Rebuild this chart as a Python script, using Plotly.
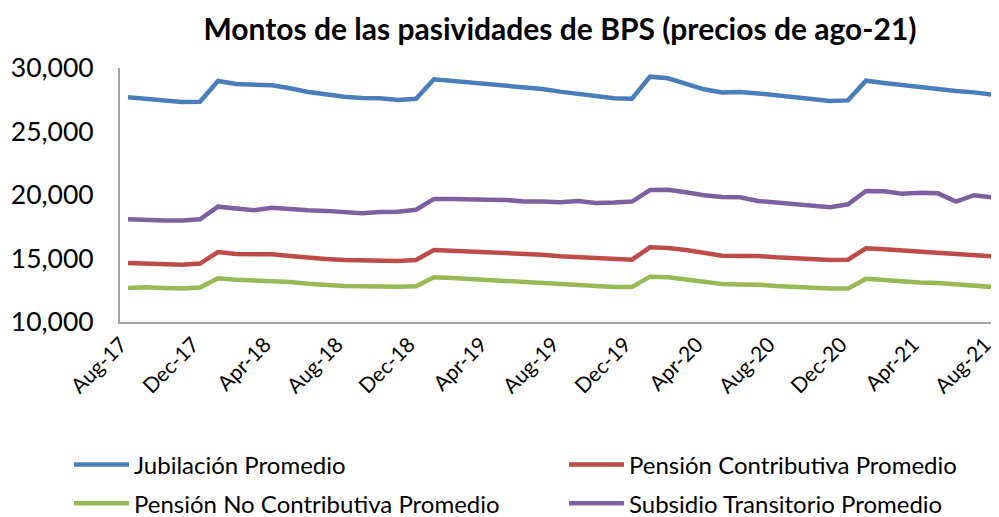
import pandas as pd
import plotly.graph_objects as go

months = list(pd.date_range("2017-08-01", periods=49, freq="MS").strftime("%b-%y"))

jubilacion = [27690, 27560, 27430, 27320, 27350, 28980, 28740, 28660, 28640, 28400,
              28110, 27930, 27740, 27640, 27610, 27480, 27580, 29110, 28980, 28870,
              28760, 28640, 28480, 28350, 28140, 27980, 27740, 27610, 27580, 29320,
              29190, 28790, 28320, 28080, 28110, 28000, 27850, 27690, 27530, 27400,
              27450, 29000, 28820, 28640, 28530, 28370, 28190, 28080, 27900]
contributiva = [14650, 14600, 14540, 14510, 14600, 15510, 15350, 15330, 15330, 15200,
                15040, 14960, 14880, 14850, 14830, 14800, 14880, 15670, 15620, 15560,
                15510, 15460, 15380, 15300, 15170, 15090, 14990, 14910, 14910, 15880,
                15830, 15670, 15410, 15220, 15200, 15200, 15090, 15020, 14940, 14880,
                14910, 15800, 15720, 15640, 15560, 15490, 15380, 15300, 15170]
no_contributiva = [12680, 12730, 12680, 12630, 12710, 13440, 13330, 13280, 13280, 13150,
                   13020, 12910, 12830, 12810, 12780, 12780, 12810, 13520, 13470, 13390,
                   13330, 13280, 13180, 13070, 12990, 12910, 12810, 12760, 12760, 13570,
                   13520, 13330, 13150, 12990, 12960, 12940, 12830, 12760, 12680, 12630,
                   12630, 13410, 13310, 13200, 13120, 13070, 12990, 12880, 12760]
subsidio = [18090, 18030, 18000, 18000, 18090, 19080, 18900, 18800, 19000, 18870,
            18800, 18750, 18610, 18560, 18660, 18690, 18840, 19690, 19690, 19630,
            19630, 19610, 19480, 19480, 19430, 19530, 19370, 19400, 19480, 20390,
            20420, 20210, 19980, 19840, 19820, 19530, 19400, 19270, 19160, 19030,
            19270, 20310, 20290, 20100, 20180, 20130, 19480, 19980, 19820]

series = [
    ("Jubilación Promedio", jubilacion, "#4A7EBB", "legend"),
    ("Pensión Contributiva Promedio", contributiva, "#BE4B48", "legend"),
    ("Pensión No Contributiva Promedio", no_contributiva, "#98B954", "legend2"),
    ("Subsidio Transitorio Promedio", subsidio, "#7D60A0", "legend2"),
]

tick_labels = months[::4]

font_family = "Lato, 'Open Sans', sans-serif"

fig = go.Figure()
for name, vals, color, lg in series:
    fig.add_trace(go.Scatter(x=months, y=vals, name=name, mode="lines",
                             line=dict(color=color, width=4.5), legend=lg))

legend_common = dict(orientation="h", entrywidth=425, entrywidthmode="pixels",
                     font=dict(family=font_family, size=24, color="#000"),
                     xanchor="left", yanchor="middle", bgcolor="rgba(0,0,0,0)",
                     itemwidth=55, tracegroupgap=0)

fig.update_layout(
    width=991, height=509,
    margin=dict(l=112, r=0, t=60, b=195, autoexpand=False),
    paper_bgcolor="white", plot_bgcolor="white",
    font=dict(family=font_family, color="#000"),
    title=dict(text="<b>Montos de las pasividades de BPS (precios de ago-21)</b>",
               x=0.557, xanchor="center", y=0.957, yanchor="middle",
               font=dict(family=font_family, size=30, color="#000")),
    showlegend=True,
    legend=dict(x=-0.058, y=-0.563, **legend_common),
    legend2=dict(x=-0.058, y=-0.715, **legend_common),
    xaxis=dict(type="category", range=[-0.444, 48.39], tickmode="array",
               tickvals=tick_labels, ticktext=tick_labels, tickangle=-45,
               showline=True, linecolor="#A6A6A6", linewidth=2, showgrid=False,
               ticks="", automargin=False, ticklabelshift=-7,
               tickfont=dict(family=font_family, size=21, color="#000")),
    yaxis=dict(range=[10000, 30000], tickvals=[10000, 15000, 20000, 25000, 30000],
               tickformat=",d", showline=True, linecolor="#A6A6A6", linewidth=2,
               showgrid=False, zeroline=False, ticks="", ticklabelstandoff=19,
               automargin=False,
               tickfont=dict(family=font_family, size=26.5, color="#000")),
)

fig.write_html("out.html")
